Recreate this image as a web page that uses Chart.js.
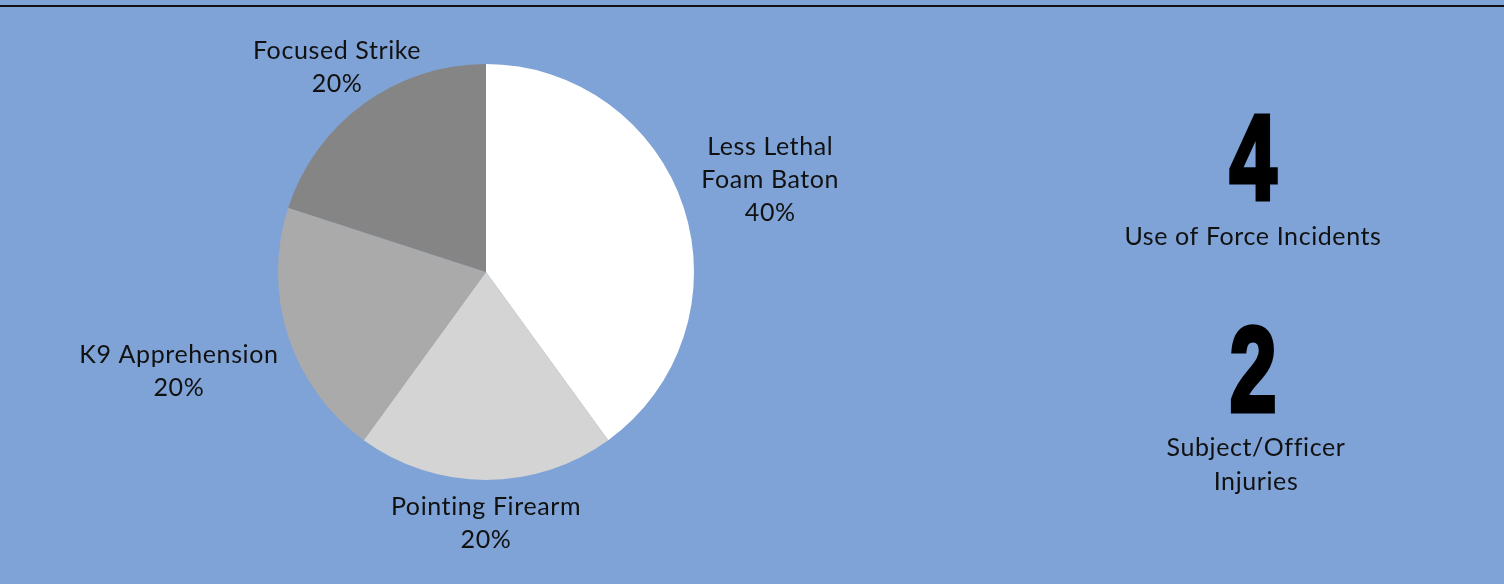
<!DOCTYPE html>
<html>
<head>
<meta charset="utf-8">
<script src="https://cdn.jsdelivr.net/npm/chart.js@4.4.1/dist/chart.umd.min.js"></script>
<style>
  html, body { margin: 0; padding: 0; background: #7fa3d6; }
  #wrap { position: relative; width: 1504px; height: 584px; }
</style>
</head>
<body>
<div id="wrap"><canvas id="myChart" width="1504" height="584"></canvas></div>
<script>
'use strict';

// data
const categories = [['Less Lethal', 'Foam Baton'], ['Pointing Firearm'], ['K9 Apprehension'], ['Focused Strike']];
const counts = [2, 1, 1, 1];
const sliceColors = ['#ffffff', '#d4d4d4', '#aaaaaa', '#858585'];

const statNumbers = ['4', '2'];
const statLabels = [['Use of Force Incidents'], ['Subject/Officer', 'Injuries']];

const labelFont = '25px Lato, "Noto Sans", sans-serif';
const lineH = 33;

// draws the outside labels, the top rule and the two big numbers
const extrasPlugin = {
  id: 'extras',
  afterDraw(chart) {
    const ctx = chart.ctx;
    const meta = chart.getDatasetMeta(0);
    const total = counts.reduce((a, b) => a + b, 0);
    ctx.save();

    // top dark rule
    ctx.fillStyle = '#111111';
    ctx.fillRect(0, 5, chart.width, 2);

    ctx.font = labelFont;
    ctx.letterSpacing = '0.6px';
    ctx.fillStyle = '#111111';
    ctx.textAlign = 'center';
    ctx.textBaseline = 'middle';

    meta.data.forEach((arc, i) => {
      const p = arc.getProps(['x', 'y', 'startAngle', 'endAngle', 'outerRadius'], true);
      const mid = (p.startAngle + p.endAngle) / 2;
      const dx = Math.cos(mid);
      const dy = Math.sin(mid);
      const pct = Math.round(counts[i] / total * 100) + '%';
      const lines = categories[i].concat([pct]);
      let w = 0;
      lines.forEach(l => { w = Math.max(w, ctx.measureText(l).width); });
      const h = lines.length * lineH;
      const extent = Math.abs(dx) * w / 2 + Math.abs(dy) * h / 2;
      let d = p.outerRadius + 10 + extent;
      const minTop = 34;
      if (p.y + d * dy - h / 2 < minTop && dy < 0) {
        d = (p.y - (minTop + h / 2)) / (-dy);
      }
      const cx = p.x + d * dx;
      const cy = p.y + d * dy;
      lines.forEach((l, k) => {
        ctx.fillText(l, cx, cy - h / 2 + lineH * (k + 0.5));
      });
    });

    // right side stats
    const sx = 1253;
    const numBase = [199, 411];
    const labelBase = [[245], [456, 490]];
    ctx.textBaseline = 'alphabetic';
    statNumbers.forEach((n, i) => {
      ctx.save();
      ctx.letterSpacing = '0px';
      ctx.translate(sx, numBase[i]);
      ctx.scale(0.7, 1);
      ctx.font = 'bold 120px "Liberation Sans", "DejaVu Sans", sans-serif';
      ctx.fillStyle = '#000000';
      ctx.lineWidth = 5;
      ctx.strokeStyle = '#000000';
      ctx.lineJoin = 'miter';
      ctx.fillText(n, 0, 0);
      ctx.strokeText(n, 0, 0);
      ctx.restore();
      ctx.font = labelFont;
      ctx.fillStyle = '#111111';
      statLabels[i].forEach((l, k) => {
        ctx.fillText(l, sx + (i === 1 ? 3 : 0), labelBase[i][k]);
      });
    });
    ctx.restore();
  }
};

const data = {
  labels: categories,
  datasets: [{
    data: counts,
    backgroundColor: sliceColors,
    borderWidth: 0
  }]
};

const config = {
  type: 'pie',
  data: data,
  options: {
    responsive: false,
    animation: false,
    layout: {
      padding: { left: 278, right: 810, top: 64, bottom: 104 }
    },
    plugins: {
      legend: { display: false },
      tooltip: { enabled: false }
    }
  },
  plugins: [extrasPlugin]
};

const myChart = new Chart(document.getElementById('myChart'), config);
</script>
</body>
</html>
